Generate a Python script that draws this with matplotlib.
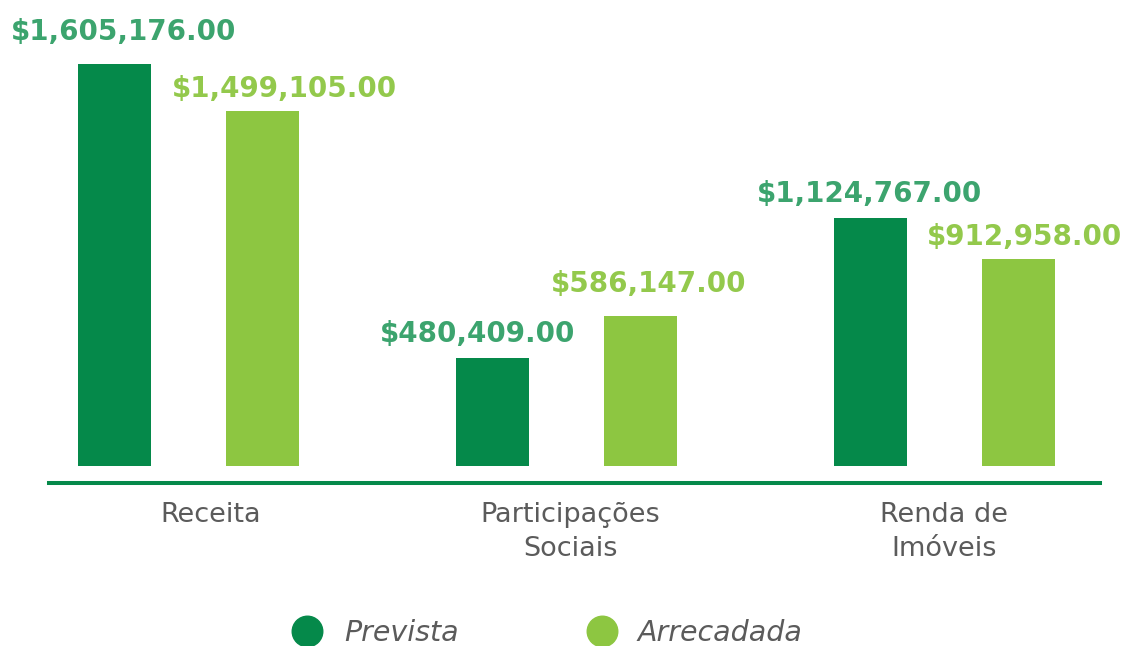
import matplotlib
matplotlib.use("Agg")
import matplotlib.pyplot as plt
import numpy as np

# ---- data ----
categorias = ["Receita", "Participações\nSociais", "Renda de\nImóveis"]
series = ["Prevista", "Arrecadada"]
# label values (as printed on the chart)
prevista_rotulo = [1605176.00, 480409.00, 1124767.00]
arrecadada_rotulo = [1499105.00, 586147.00, 912958.00]
# bar heights as drawn in the picture (the bars are not exactly proportional to the labels)
prevista_altura = [1605176, 431300, 990300]
arrecadada_altura = [1417500, 599000, 826600]

# ---- style ----
c_prev = "#05894A"
c_arr = "#8DC641"
c_prev_txt = "#3CA46E"
c_arr_txt = "#93C94C"
c_gray = "#5B5B5B"

# label placement tweaks (pixels: dx, dy above bar top)
prev_off = [(9, 24), (-15, 16), (-1, 16)]
arr_off = [(22, 14), (8, 24), (6, 14)]

W, H, DPI = 1135, 646, 100
fig = plt.figure(figsize=(W / DPI, H / DPI), dpi=DPI)
ax = fig.add_axes([0, 0, 1, 1])

px_unit = 1605176 / 402.0          # value per pixel vertically
group_px = 378.0                   # pixels per category step
x0_px = 188.5                      # pixel x of first group center
ax.set_xlim(-x0_px / group_px, (W - x0_px) / group_px)
ax.set_ylim(-(H - 466) * px_unit, 466 * px_unit)
ax.axis("off")

x = np.arange(len(categorias))
off = 74 / group_px
bw = 73 / group_px
b1 = ax.bar(x - off, prevista_altura, width=bw, color=c_prev)
b2 = ax.bar(x + off, arrecadada_altura, width=bw, color=c_arr)

def fmt(v):
    return "${:,.2f}".format(v)

pt = 72.0 / DPI
for bars, vals, col, offs in [(b1, prevista_rotulo, c_prev_txt, prev_off),
                              (b2, arrecadada_rotulo, c_arr_txt, arr_off)]:
    for rect, v, (dx, dy) in zip(bars, vals, offs):
        ax.annotate(fmt(v), (rect.get_x() + rect.get_width() / 2, rect.get_height()),
                    xytext=(dx * pt, dy * pt), textcoords="offset points", ha="center",
                    va="baseline", fontsize=20, fontweight="bold", color=col,
                    family="DejaVu Sans")

# baseline axis line
ax.axhline(-17 * px_unit, xmin=49 / W, xmax=1100 / W, color=c_prev, lw=2.9)

# category labels
cat_dx = [22, 4, 0]
for xi, cat, dx in zip(x, categorias, cat_dx):
    ax.text(xi + dx / group_px, -36 * px_unit, cat, ha="center", va="top",
            fontsize=19.5, color=c_gray, linespacing=1.4, family="DejaVu Sans")

# legend
leg_y = 631
for cx, tx, col, name in [(307, 344, c_prev, series[0]), (602, 638, c_arr, series[1])]:
    fig.lines.append(matplotlib.lines.Line2D([cx / W], [1 - leg_y / H], marker="o",
                     markersize=22, color=col, transform=fig.transFigure, linestyle="none"))
    fig.text(tx / W, 1 - 641 / H, name, ha="left", va="baseline", fontsize=20.5,
             style="italic", color=c_gray, family="DejaVu Sans")

fig.savefig("out.png", dpi=DPI)
